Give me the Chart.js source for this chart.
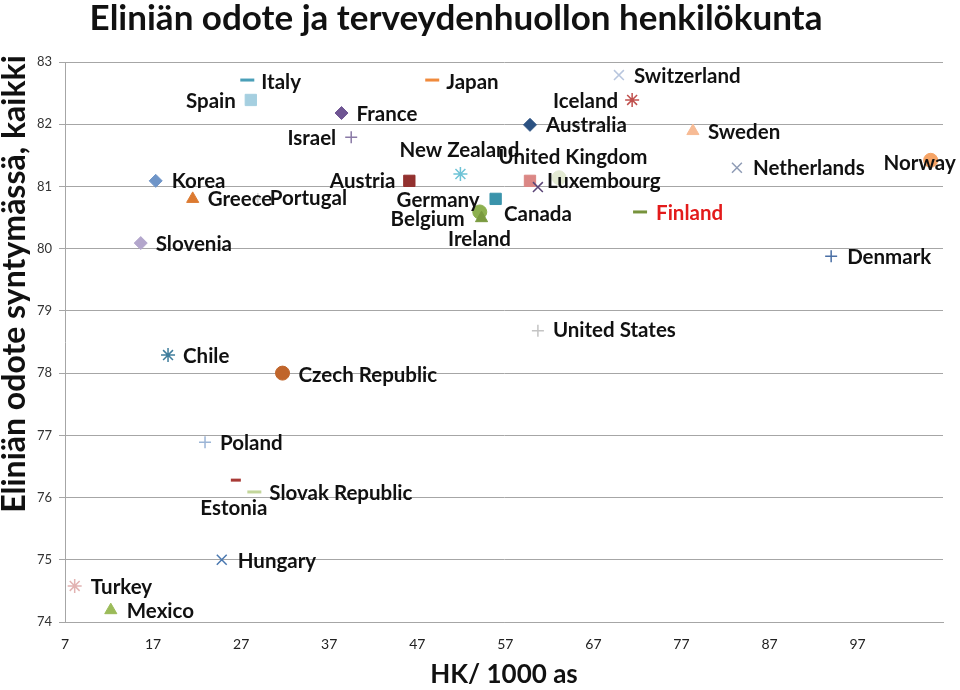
<!DOCTYPE html>
<html>
<head>
<meta charset="utf-8">
<script src="https://cdn.jsdelivr.net/npm/chart.js@4/dist/chart.umd.min.js"></script>
<style>
  html, body { margin: 0; padding: 0; background: #fff; }
  #wrap { width: 960px; height: 690px; }
</style>
</head>
<body>
<div id="wrap"><canvas id="graph" width="960" height="690"></canvas></div>
<script>
// Maat
const countries = ['Italy', 'Spain', 'France', 'Israel', 'Japan', 'Switzerland', 'Iceland', 'Australia',
  'Sweden', 'New Zealand', 'United Kingdom', 'Luxembourg', 'Canada', 'Netherlands', 'Norway', 'Korea',
  'Austria', 'Greece', 'Portugal', 'Germany', 'Belgium', 'Ireland', 'Finland', 'Slovenia', 'Denmark',
  'United States', 'Chile', 'Czech Republic', 'Poland', 'Estonia', 'Slovak Republic', 'Hungary',
  'Turkey', 'Mexico'];

// Terveydenhuollon henkilökunta / 1000 asukasta
const hkPer1000 = [27.7, 28.1, 38.4, 39.5, 48.7, 69.9, 71.4, 59.8,
  78.3, 51.9, 59.8, 63.1, 60.7, 83.3, 105.3, 17.3,
  46.1, 21.5, 28.9, 55.9, 54.1, 54.3, 72.3, 15.6, 94.0,
  60.7, 18.7, 31.7, 22.9, 26.4, 28.5, 24.8,
  8.1, 12.2];

// Elinajanodote syntymässä
const lifeExp = [82.71, 82.39, 82.18, 81.79, 82.71, 82.79, 82.39, 81.99,
  81.89, 81.2, 81.09, 81.14, 80.99, 81.3, 81.42, 81.09,
  81.09, 80.8, 80.8, 80.8, 80.59, 80.49, 80.59, 80.09, 79.88,
  78.68, 78.29, 78.0, 76.89, 76.28, 76.09, 75.0,
  74.58, 74.19];

const xTicks = [7, 17, 27, 37, 47, 57, 67, 77, 87, 97];
const yTicks = [74, 75, 76, 77, 78, 79, 80, 81, 82, 83];

// Merkkien tyylit (ei dataa)
const markerStyles = ['line', 'rect', 'rectRot', 'cross', 'line', 'crossRot', 'star', 'rectRot',
  'triangle', 'star', 'rect', 'circle', 'crossRot', 'crossRot', 'circle', 'rectRot',
  'rect', 'triangle', 'cross', 'rect', 'circle', 'triangle', 'line', 'rectRot', 'cross',
  'cross', 'star', 'circle', 'cross', 'line', 'line', 'crossRot',
  'star', 'triangle'];
const markerColors = ['#4a9fb8', '#a5cfe0', '#6f5593', '#8a7aa6', '#f08a3c', '#b8c6de', '#c0504d', '#2c5282',
  '#f7bb95', '#6ec3d6', '#db8785', '#e3ead3', '#5b4577', '#8e9bb5', '#f6a466', '#6f95c8',
  '#93312f', '#dc7a30', '#d0d0d0', '#3a93ab', '#8db04f', '#7a9a3f', '#77933c', '#b3a6cc', '#4a6fa5',
  '#c4c4c4', '#3f7d9c', '#c0652b', '#9cb5d6', '#a83a36', '#c3d69b', '#4a78b0',
  '#e2b3b2', '#9bbb59'];
const markerSizes = [7, 8, 6.5, 6, 7, 7, 7, 6.5,
  7, 7, 8, 7, 7, 7, 7, 6.5,
  8, 7, 6, 8, 7, 7, 7, 6.5, 6,
  6, 7, 7, 6, 5, 7, 7,
  7, 7];
// Nimilappujen sijainti merkkiin nähden: [dx, dy, tasaus]
const labelOffsets = [[14, 2, 'left'], [-15, 1, 'right'], [15, 1, 'left'], [-15, 1, 'right'],
  [14, 2, 'left'], [15, 1, 'left'], [-14, 1, 'right'], [16, 1, 'left'],
  [15, 1, 'left'], [-1, -24, 'center'], [43, -23, 'center'], [-12, 4, 'left'],
  [0, 27, 'center'], [16, 1, 'left'], [-11, 3, 'center'], [16, 1, 'left'],
  [-14, 1, 'right'], [15, 1, 'left'], [12, 0, 'left'], [-16, 2, 'right'],
  [-15, 7, 'right'], [-2, 21, 'center'], [16, 1, 'left'], [15, 1, 'left'], [16, 1, 'left'],
  [15, 0, 'left'], [15, 1, 'left'], [16, 2, 'left'], [15, 1, 'left'], [-2, 28, 'center'],
  [15, 1, 'left'], [16, 2, 'left'], [16, 1, 'left'], [16, 1, 'left']];

const FONT = 'Lato, "Open Sans", sans-serif';

// Piirretään otsikot ja maiden nimet
const labelPlugin = {
  id: 'countryLabels',
  afterDatasetsDraw(chart) {
    const ctx = chart.ctx;
    const meta = chart.getDatasetMeta(0);
    ctx.save();
    ctx.font = 'bold 20.5px ' + FONT;
    ctx.textBaseline = 'middle';
    meta.data.forEach((pt, i) => {
      const off = labelOffsets[i];
      ctx.textAlign = off[2];
      ctx.fillStyle = countries[i] === 'Finland' ? '#e31b1b' : '#111';
      ctx.fillText(countries[i], pt.x + off[0], pt.y + off[1]);
    });
    ctx.restore();
  },
  afterDraw(chart) {
    const ctx = chart.ctx;
    ctx.save();
    ctx.fillStyle = '#111';
    ctx.textAlign = 'center';
    ctx.textBaseline = 'middle';
    ctx.font = 'bold 35px ' + FONT;
    ctx.fillText('Eliniän odote ja terveydenhuollon henkilökunta', 456, 19);
    ctx.translate(15, 284);
    ctx.rotate(-Math.PI / 2);
    ctx.font = 'bold 32px ' + FONT;
    ctx.fillText('Eliniän odote syntymässä, kaikki', 0, 0);
    ctx.restore();
  }
};

const points = hkPer1000.map((x, i) => ({ x: x, y: lifeExp[i] }));

new Chart(document.getElementById('graph'), {
  type: 'scatter',
  data: {
    datasets: [{
      label: 'Maat',
      data: points,
      pointStyle: markerStyles,
      pointRadius: markerSizes,
      pointHoverRadius: markerSizes,
      pointBackgroundColor: markerColors,
      pointBorderColor: markerColors,
      pointBorderWidth: markerStyles.map(s => s === 'line' ? 3 : (s === 'cross' || s === 'crossRot' || s === 'star') ? 1.5 : 1)
    }]
  },
  options: {
    responsive: false,
    animation: false,
    layout: { padding: { top: 62, right: 17, left: 0, bottom: 0 } },
    plugins: {
      legend: { display: false },
      tooltip: { enabled: false }
    },
    scales: {
      x: {
        type: 'linear',
        min: 7,
        max: 106.7,
        afterFit: s => { s.height = 68; },
        afterBuildTicks: s => { s.ticks = xTicks.map(v => ({ value: v })); },
        grid: { display: false },
        border: { display: true, color: '#a6a6a6', width: 1 },
        ticks: { color: '#222', font: { family: FONT, size: 14 }, padding: 6, maxRotation: 0 },
        title: { display: true, text: 'HK/ 1000 as', color: '#111', font: { family: FONT, size: 26, weight: 'bold' }, padding: { top: 16, bottom: 0 } }
      },
      y: {
        type: 'linear',
        min: 74,
        max: 83,
        afterFit: s => { s.width = 65; },
        afterBuildTicks: s => { s.ticks = yTicks.map(v => ({ value: v })); },
        grid: { color: '#a6a6a6', lineWidth: 1, tickLength: 6, drawTicks: true },
        border: { display: true, color: '#a6a6a6', width: 1 },
        ticks: { color: '#333', font: { family: FONT, size: 13 }, padding: 7 }
      }
    }
  },
  plugins: [labelPlugin]
});
</script>
</body>
</html>
